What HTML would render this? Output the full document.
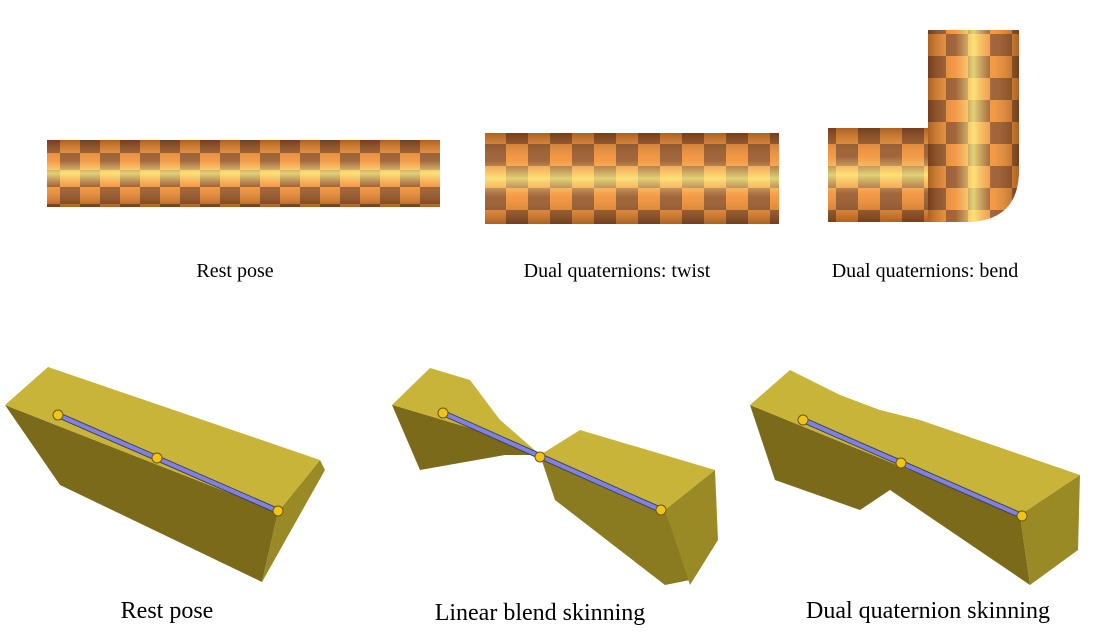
<!DOCTYPE html>
<html><head><meta charset="utf-8"><style>
html,body{margin:0;padding:0;background:#fff;width:1099px;height:644px;overflow:hidden}
svg{display:block}
text{font-family:"Liberation Serif",serif;fill:#000}
</style></head><body>
<svg width="1099" height="644" viewBox="0 0 1099 644" xmlns="http://www.w3.org/2000/svg">
<defs>
<pattern id="chk" width="40" height="34" patternUnits="userSpaceOnUse">
<rect width="40" height="34" fill="#f08a30"/>
<rect x="0" y="0" width="20" height="17" fill="#8a4a22"/>
<rect x="20" y="17" width="20" height="17" fill="#8a4a22"/>
</pattern>
<pattern id="chk2" width="44" height="44" patternUnits="userSpaceOnUse" patternTransform="translate(0,12)">
<rect width="44" height="44" fill="#f08a30"/>
<rect x="0" y="0" width="22" height="22" fill="#8a4a22"/>
<rect x="22" y="22" width="22" height="22" fill="#8a4a22"/>
</pattern>
<linearGradient id="shV" x1="0" y1="0" x2="0" y2="1">
<stop offset="0" stop-color="#5a3010" stop-opacity=".45"/>
<stop offset=".3" stop-color="#ffd8a0" stop-opacity=".2"/>
<stop offset=".5" stop-color="#ffff90" stop-opacity=".75"/>
<stop offset=".7" stop-color="#ffd8a0" stop-opacity=".2"/>
<stop offset="1" stop-color="#5a3010" stop-opacity=".45"/>
</linearGradient>
<linearGradient id="shH" x1="0" y1="0" x2="1" y2="0">
<stop offset="0" stop-color="#5a3010" stop-opacity=".45"/>
<stop offset=".3" stop-color="#ffd8a0" stop-opacity=".2"/>
<stop offset=".5" stop-color="#ffff90" stop-opacity=".75"/>
<stop offset=".7" stop-color="#ffd8a0" stop-opacity=".2"/>
<stop offset="1" stop-color="#5a3010" stop-opacity=".45"/>
</linearGradient>
<clipPath id="bendclip"><path d="M828,128 L928,128 L928,30 L1019,30 L1019,170 Q1019,222 965,222 L828,222 Z"/></clipPath>
</defs>

<rect x="47" y="140" width="393" height="67" fill="url(#chk)"/>
<rect x="47" y="140" width="393" height="67" fill="url(#shV)"/>
<rect x="485" y="133" width="294" height="91" fill="url(#chk2)"/>
<rect x="485" y="133" width="294" height="91" fill="url(#shV)"/>
<g clip-path="url(#bendclip)">
<rect x="828" y="30" width="191" height="192" fill="url(#chk2)"/>
<rect x="828" y="128" width="100" height="94" fill="url(#shV)"/>
<rect x="928" y="30" width="91" height="192" fill="url(#shH)"/>
</g>

<text x="235" y="277" font-size="20" text-anchor="middle">Rest pose</text>
<text x="617" y="277" font-size="20" text-anchor="middle">Dual quaternions: twist</text>
<text x="925" y="277" font-size="20" text-anchor="middle">Dual quaternions: bend</text>

<polygon points="5,405 60,485 262,582 278,512" fill="#7a6a1a"/>
<polygon points="278,512 262,582 325,470 320,460" fill="#9a8a25"/>
<polygon points="5,405 48,367 320,460 278,512" fill="#c9b43a"/>

<polygon points="392,405 420,470 505,455 540,455 500,420" fill="#7a6a1a"/>
<polygon points="392,405 430,368 470,380 500,420 540,455 510,440" fill="#c9b43a"/>
<polygon points="540,455 555,500 665,585 690,580 665,510" fill="#8a7a20"/>
<polygon points="540,455 580,430 715,470 665,510" fill="#c9b43a"/>
<polygon points="665,510 715,470 718,540 690,585" fill="#9a8a25"/>

<polygon points="750,405 775,480 860,510 890,490 1030,585 1020,515" fill="#7a6a1a"/>
<polygon points="750,405 790,370 840,395 880,410 920,420 1080,475 1020,515" fill="#c9b43a"/>
<polygon points="1020,515 1080,475 1078,550 1030,585" fill="#9a8a25"/>

<g stroke="#444" stroke-width="6" stroke-linecap="round"><line x1="58" y1="415" x2="278" y2="511"/><line x1="443" y1="413" x2="661" y2="510"/><line x1="803" y1="420" x2="1022" y2="516"/></g>
<g stroke="#7f80e8" stroke-width="4" stroke-linecap="round"><line x1="58" y1="415" x2="278" y2="511"/><line x1="443" y1="413" x2="661" y2="510"/><line x1="803" y1="420" x2="1022" y2="516"/></g>
<g fill="#f2c418" stroke="#6a5a10" stroke-width="1">
<circle cx="58" cy="415" r="5"/><circle cx="157" cy="458" r="5"/><circle cx="278" cy="511" r="5"/>
<circle cx="443" cy="413" r="5"/><circle cx="540" cy="457" r="5"/><circle cx="661" cy="510" r="5"/>
<circle cx="803" cy="420" r="5"/><circle cx="901" cy="463" r="5"/><circle cx="1022" cy="516" r="5"/>
</g>

<text x="167" y="618" font-size="24" text-anchor="middle">Rest pose</text>
<text x="540" y="620" font-size="24" text-anchor="middle">Linear blend skinning</text>
<text x="928" y="618" font-size="24" text-anchor="middle">Dual quaternion skinning</text>
</svg>
</body></html>
